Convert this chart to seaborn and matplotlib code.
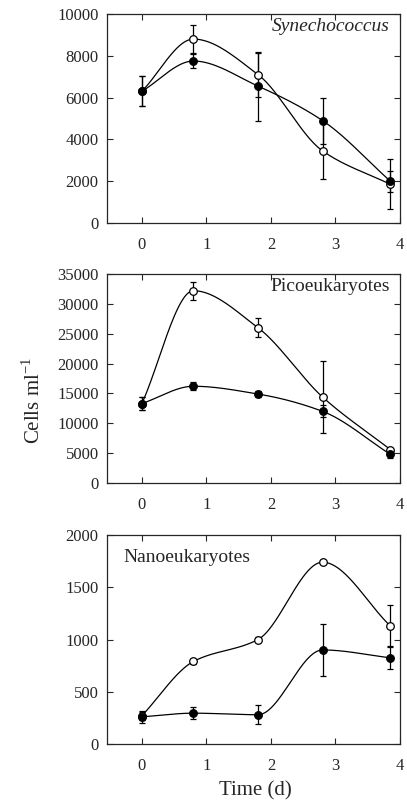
import numpy as np
import pandas as pd
import matplotlib
matplotlib.use("Agg")
import matplotlib.pyplot as plt
import seaborn as sns

sns.set_style("ticks")
plt.rcParams['font.family'] = ['Liberation Serif', 'DejaVu Serif']
plt.rcParams['mathtext.fontset'] = 'custom'
plt.rcParams['mathtext.rm'] = 'Liberation Serif'

time = [0.0, 0.8, 1.8, 2.8, 3.85]

syn_filled = [6300, 7750, 6550, 4900, 2000]
syn_filled_err = [720, 330, 1650, 1100, 500]
syn_open = [6300, 8800, 7100, 3450, 1850]
syn_open_err = [720, 650, 1050, 1350, 1200]

pico_filled = [13300, 16200, 14900, 12000, 4800]
pico_filled_err = [1100, 700, 500, 1000, 600]
pico_open = [13300, 32200, 26000, 14400, 5600]
pico_open_err = [1100, 1500, 1600, 6000, 300]

nano_filled = [260, 295, 280, 900, 825]
nano_filled_err = [60, 60, 90, 245, 110]
nano_open = [270, 790, 1000, 1740, 1130]
nano_open_err = [40, 20, 20, 20, 200]

panels = [
    ("Synechococcus", "italic", "right", syn_filled, syn_filled_err, syn_open, syn_open_err,
     (0, 10000), [0, 2000, 4000, 6000, 8000, 10000]),
    ("Picoeukaryotes", "normal", "right", pico_filled, pico_filled_err, pico_open, pico_open_err,
     (0, 35000), [0, 5000, 10000, 15000, 20000, 25000, 30000, 35000]),
    ("Nanoeukaryotes", "normal", "left", nano_filled, nano_filled_err, nano_open, nano_open_err,
     (0, 2000), [0, 500, 1000, 1500, 2000]),
]


def pchip(x, y, n=200):
    """Monotone cubic (Fritsch-Carlson) curve through the points, for drawing."""
    x = np.asarray(x, float); y = np.asarray(y, float)
    h = np.diff(x); d = np.diff(y) / h
    m = np.zeros_like(y)
    for i in range(1, len(x) - 1):
        if d[i - 1] * d[i] > 0:
            w1 = 2 * h[i] + h[i - 1]; w2 = h[i] + 2 * h[i - 1]
            m[i] = (w1 + w2) / (w1 / d[i - 1] + w2 / d[i])
    m[0] = d[0]; m[-1] = d[-1]
    xs = np.linspace(x[0], x[-1], n)
    ys = np.empty_like(xs)
    for k, xv in enumerate(xs):
        i = min(np.searchsorted(x, xv, side='right') - 1, len(x) - 2)
        t = (xv - x[i]) / h[i]
        h00 = 2 * t ** 3 - 3 * t ** 2 + 1; h10 = t ** 3 - 2 * t ** 2 + t
        h01 = -2 * t ** 3 + 3 * t ** 2; h11 = t ** 3 - t ** 2
        ys[k] = h00 * y[i] + h10 * h[i] * m[i] + h01 * y[i + 1] + h11 * h[i] * m[i + 1]
    return xs, ys


fig = plt.figure(figsize=(4.07, 8.05), dpi=100)
tops = [14, 274, 535]
height = 209
left, right = 107, 400
for (name, style, side, yf, ef, yo, eo, ylim, yticks), top in zip(panels, tops):
    ax = fig.add_axes([left / 407, 1 - (top + height) / 805, (right - left) / 407, height / 805])
    for yv, ev, face in [(yo, eo, 'white'), (yf, ef, 'black')]:
        xs, ys = pchip(time, yv)
        sns.lineplot(x=xs, y=ys, ax=ax, color='black', lw=0.9, sort=False, zorder=2)
        ax.errorbar(time, yv, yerr=ev, fmt='none', ecolor='black', elinewidth=0.9,
                    capsize=2, capthick=0.9, zorder=3)
        sns.scatterplot(x=time, y=yv, ax=ax, color=face, edgecolor='black', linewidth=0.9,
                        s=30, zorder=4)
    ax.set_xlim(-0.54, 4.0)
    ax.set_ylim(*ylim)
    ax.set_xticks([0, 1, 2, 3, 4])
    ax.set_yticks(yticks)
    ax.tick_params(direction='in', top=True, right=True, length=4, width=0.8,
                   labelsize=12)
    ax.tick_params(axis='y', pad=6)
    ax.tick_params(axis='x', pad=10)
    for s in ax.spines.values():
        s.set_linewidth(0.9)
    if side == 'right':
        ax.text(0.965, 0.94, name, transform=ax.transAxes, ha='right', va='center',
                fontsize=14, fontstyle=style)
    else:
        ax.text(0.055, 0.89, name, transform=ax.transAxes, ha='left', va='center',
                fontsize=14, fontstyle=style)

fig.text(33 / 407, 1 - 400 / 805, r'Cells ml$^{-1}$', rotation=90, ha='center', va='center',
         fontsize=15)
fig.text(255 / 407, 1 - 791 / 805, 'Time (d)', ha='center', va='center', fontsize=15)

fig.savefig('out.png', dpi=100)
